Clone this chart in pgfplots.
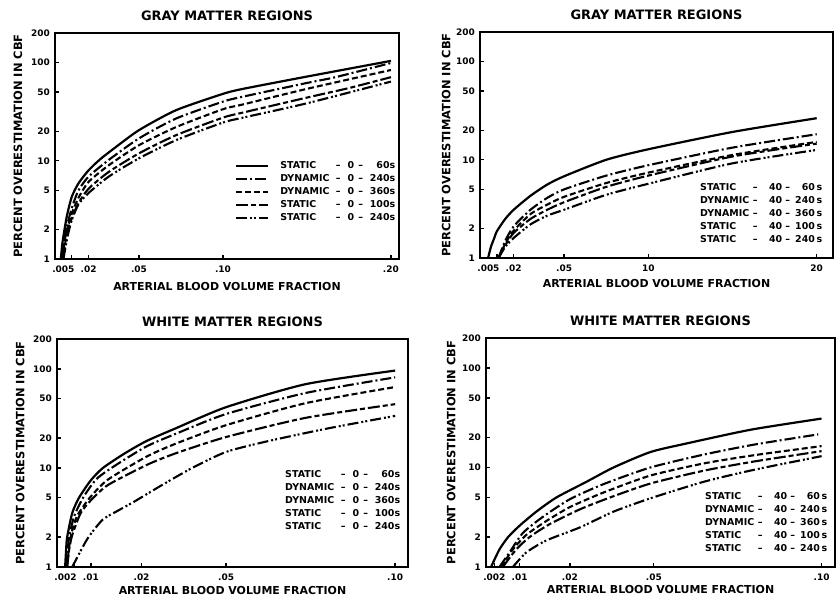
\documentclass[border=0pt]{standalone}
\usepackage{fontspec}
\setmainfont{DejaVu Sans}
\usepackage{pgfplots}
\pgfplotsset{compat=1.18}

\newcommand{\LZ}[3]{\makebox[52bp][l]{#1}\makebox[12bp]{--}\makebox[10bp][r]{#2}\makebox[13bp]{--}\makebox[28bp][r]{#3}}
\newcommand{\LF}[3]{\makebox[50bp][l]{#1}\makebox[10bp]{--}\makebox[22bp][r]{#2}\makebox[11bp]{--}\makebox[29bp][r]{#3}}

\tikzset{
 c1/.style={black, smooth, tension=0.4, solid, line width=2.2bp},
 c2/.style={black, smooth, tension=0.4, line width=2.1bp, dash pattern=on 11bp off 3bp on 2bp off 3bp},
 c3/.style={black, smooth, tension=0.4, line width=2.1bp, dash pattern=on 6bp off 3bp},
 c4/.style={black, smooth, tension=0.4, line width=2.1bp, dash pattern=on 12bp off 3bp on 5bp off 3bp},
 c5/.style={black, smooth, tension=0.4, line width=2.1bp, dash pattern=on 11bp off 3bp on 2bp off 2bp on 2bp off 3bp},
}

\pgfplotsset{
  scale only axis,
  ymin=1, ymax=200,
  xmin=0,
  axis line style={line width=2bp},
  every tick/.style={black, line width=1.4bp},
  major tick length=4bp,
  tick align=inside, tick pos=left,
  tick label style={font=\fontsize{9}{10}\selectfont\bfseries, inner sep=0pt},
  xticklabel style={anchor=north, yshift=-7bp},
  yticklabel style={anchor=east, xshift=-5bp},
  every axis title/.style={at={(axis description cs:0.5,1.075)}, anchor=center, font=\fontsize{13}{15}\selectfont\bfseries},
  xlabel style={font=\fontsize{11}{13}\selectfont\bfseries, anchor=center},
  ylabel style={font=\fontsize{11.5}{13}\selectfont\bfseries, anchor=center},
  legend cell align=left,
  legend style={draw=none, fill=none, inner sep=0pt, anchor=north west,
    font=\fontsize{9.5}{10}\selectfont\bfseries,
    nodes={inner sep=0pt, text height=7bp, text depth=1.5bp}, row sep=4.5bp},
}

\begin{document}
\begin{tikzpicture}
\useasboundingbox (0,0) rectangle (836bp,601bp);

% ---------------- TOP LEFT ----------------
\begin{axis}[at={(55bp,342bp)}, anchor=south west, width=344bp, height=226bp, xmax=0.2048,
  ymode=log, ytick={1,2,5,10,20,50,100,200}, yticklabels={1,2,5,10,20,50,100,200}, yminorticks=false,
  xtick={0.005,0.01,0.02,0.05,0.1,0.2}, xticklabels={.005,,.02,.05,.10,.20},
  title={GRAY MATTER REGIONS},
  xlabel={ARTERIAL BLOOD VOLUME FRACTION},
  ylabel={PERCENT OVERESTIMATION IN CBF},
  xlabel style={at={(axis description cs:0.5,-0.1226)}},
  ylabel style={at={(axis description cs:-0.1076,0.5)}},
  legend style={at={(axis description cs:0.523,0.431)}, column sep=11bp},
  legend image code/.code={\draw[#1] (0bp,0bp) -- (32bp,0bp);}]
\addplot[c1] coordinates {(0.0035,1) (0.0044,1.45) (0.007,2.7) (0.01,4.3) (0.014,5.9) (0.02,8.0) (0.027,10.4) (0.035,13.3) (0.05,20.5) (0.072,32.7) (0.1,48) (0.112,54) (0.15,72) (0.2,104)};
\addlegendentry{\LZ{STATIC}{0}{60s}}
\addplot[c2] coordinates {(0.0042,1) (0.006,1.8) (0.01,3.3) (0.014,5.0) (0.02,6.9) (0.032,10.2) (0.05,16.9) (0.072,26.9) (0.1,40) (0.112,45) (0.15,62) (0.167,71) (0.2,99)};
\addlegendentry{\LZ{DYNAMIC}{0}{240s}}
\addplot[c3] coordinates {(0.0045,1) (0.0065,1.8) (0.01,2.9) (0.014,4.2) (0.02,6.1) (0.032,9.0) (0.05,14.4) (0.072,22) (0.1,33.5) (0.112,37.5) (0.15,54) (0.2,84)};
\addlegendentry{\LZ{DYNAMIC}{0}{360s}}
\addplot[c4] coordinates {(0.0048,1) (0.007,1.8) (0.01,2.6) (0.014,3.7) (0.02,5.2) (0.032,7.7) (0.05,11.9) (0.072,18.2) (0.1,27.5) (0.112,31) (0.15,44) (0.175,55) (0.2,71)};
\addlegendentry{\LZ{STATIC}{0}{100s}}
\addplot[c5] coordinates {(0.005,1) (0.0075,1.7) (0.01,2.5) (0.014,3.6) (0.02,4.7) (0.032,6.9) (0.05,10.6) (0.072,16.2) (0.1,24.5) (0.112,27.5) (0.15,38.5) (0.2,64)};
\addlegendentry{\LZ{STATIC}{0}{240s}}
\end{axis}

% ---------------- TOP RIGHT ----------------
\begin{axis}[at={(480bp,343bp)}, anchor=south west, width=353bp, height=226bp, xmax=0.2097,
  ymode=log, ytick={1,2,5,10,20,50,100,200}, yticklabels={1,2,5,10,20,50,100,200}, yminorticks=false,
  xtick={0.005,0.01,0.02,0.05,0.1,0.2}, xticklabels={.005,,.02,.05,10,20},
  title={GRAY MATTER REGIONS},
  xlabel={ARTERIAL BLOOD VOLUME FRACTION},
  ylabel={PERCENT OVERESTIMATION IN CBF},
  xlabel style={at={(axis description cs:0.5,-0.115)}},
  ylabel style={at={(axis description cs:-0.096,0.5)}},
  legend style={at={(axis description cs:0.6232,0.3305)}, column sep=0bp},
  legend image code/.code={}]
\addplot[c1] coordinates {(0.0048,1) (0.0065,1.3) (0.0085,1.6) (0.01,1.87) (0.015,2.5) (0.02,3.1) (0.03,4.3) (0.04,5.6) (0.05,6.8) (0.075,10) (0.1,12.8) (0.15,19.2) (0.2,26.5)};
\addlegendentry{\LF{STATIC}{40}{60\,s}}
\addplot[c2] coordinates {(0.011,1) (0.015,1.5) (0.02,2.1) (0.03,3.1) (0.04,4.1) (0.05,5.0) (0.075,6.9) (0.1,8.8) (0.15,13.3) (0.2,18.2)};
\addlegendentry{\LF{DYNAMIC}{40}{240\,s}}
\addplot[c3] coordinates {(0.011,1) (0.015,1.4) (0.02,1.9) (0.03,2.8) (0.04,3.5) (0.05,4.2) (0.075,5.8) (0.1,7.4) (0.15,11.2) (0.2,15.2)};
\addlegendentry{\LF{DYNAMIC}{40}{360\,s}}
\addplot[c4] coordinates {(0.011,1) (0.015,1.35) (0.02,1.8) (0.03,2.5) (0.04,3.1) (0.05,3.7) (0.075,5.3) (0.1,6.9) (0.15,10.8) (0.2,14.6)};
\addlegendentry{\LF{STATIC}{40}{100\,s}}
\addplot[c5] coordinates {(0.011,1) (0.015,1.3) (0.02,1.6) (0.03,2.2) (0.04,2.7) (0.05,3.1) (0.075,4.4) (0.1,5.7) (0.15,9.2) (0.2,12.6)};
\addlegendentry{\LF{STATIC}{40}{240\,s}}
\end{axis}

% ---------------- BOTTOM LEFT ----------------
\begin{axis}[at={(57bp,34bp)}, anchor=south west, width=351bp, height=228bp, xmax=0.1038,
  ymode=log, ytick={1,2,5,10,20,50,100,200}, yticklabels={1,2,5,10,20,50,100,200}, yminorticks=false,
  xtick={0.0025,0.005,0.01,0.025,0.05,0.1}, xticklabels={.002,,.01,.02,.05,.10},
  title={WHITE MATTER REGIONS},
  xlabel={ARTERIAL BLOOD VOLUME FRACTION},
  ylabel={PERCENT OVERESTIMATION IN CBF},
  xlabel style={at={(axis description cs:0.5,-0.105)}},
  ylabel style={at={(axis description cs:-0.105,0.5)}},
  legend style={at={(axis description cs:0.6496,0.4241)}, column sep=0bp},
  legend image code/.code={}]
\addplot[c1] coordinates {(0.0024,1) (0.0027,1.5) (0.003,2) (0.0045,3.5) (0.0065,5) (0.01,7.5) (0.0136,10) (0.02,14) (0.0265,18.7) (0.035,25) (0.05,41) (0.0735,70) (0.1,96)};
\addlegendentry{\LZ{STATIC}{0}{60s}}
\addplot[c2] coordinates {(0.0028,1) (0.0032,1.5) (0.0036,2) (0.005,3.2) (0.0077,5) (0.0118,7.8) (0.018,11) (0.0265,16.5) (0.035,22) (0.05,35) (0.0735,57) (0.1,82)};
\addlegendentry{\LZ{DYNAMIC}{0}{240s}}
\addplot[c3] coordinates {(0.003,1) (0.0035,1.5) (0.0043,2.2) (0.006,3.3) (0.0097,5) (0.015,7.6) (0.0265,13) (0.035,17.5) (0.05,27) (0.0735,45) (0.1,65.5)};
\addlegendentry{\LZ{DYNAMIC}{0}{360s}}
\addplot[c4] coordinates {(0.003,1) (0.0036,1.5) (0.0045,2.1) (0.007,3.5) (0.01,4.7) (0.015,6.7) (0.0265,10.7) (0.035,14) (0.05,20.5) (0.0735,32) (0.1,44)};
\addlegendentry{\LZ{STATIC}{0}{100s}}
\addplot[c5] coordinates {(0.0045,1) (0.0065,1.35) (0.0093,2) (0.0135,3) (0.018,3.7) (0.023,4.6) (0.031,6.7) (0.04,10) (0.05,14.5) (0.062,18.5) (0.08,25) (0.1,33.5)};
\addlegendentry{\LZ{STATIC}{0}{240s}}
\end{axis}

% ---------------- BOTTOM RIGHT ----------------
\begin{axis}[at={(486bp,34bp)}, anchor=south west, width=349bp, height=229bp, xmax=0.104,
  ymode=log, ytick={1,2,5,10,20,50,100,200}, yticklabels={1,2,5,10,20,50,100,200}, yminorticks=false,
  xtick={0.0025,0.005,0.01,0.025,0.05,0.1}, xticklabels={.002,,.01,.02,.05,.10},
  title={WHITE MATTER REGIONS},
  xlabel={ARTERIAL BLOOD VOLUME FRACTION},
  ylabel={PERCENT OVERESTIMATION IN CBF},
  xlabel style={at={(axis description cs:0.5,-0.10)}},
  ylabel style={at={(axis description cs:-0.100,0.5)}},
  legend style={at={(axis description cs:0.6275,0.3262)}, column sep=0bp},
  legend image code/.code={}]
\addplot[c1] coordinates {(0.0015,1) (0.004,1.5) (0.0066,2) (0.01,2.6) (0.015,3.6) (0.021,5) (0.03,7.2) (0.038,10) (0.049,14.3) (0.06,17.5) (0.079,24) (0.1,31)};
\addlegendentry{\LF{STATIC}{40}{60\,s}}
\addplot[c2] coordinates {(0.004,1) (0.007,1.4) (0.011,2.2) (0.017,3.2) (0.025,4.8) (0.035,6.8) (0.049,10) (0.065,13.5) (0.08,17) (0.099,21.5)};
\addlegendentry{\LF{DYNAMIC}{40}{240\,s}}
\addplot[c3] coordinates {(0.0045,1) (0.008,1.5) (0.012,2.1) (0.018,2.9) (0.025,4) (0.035,5.6) (0.049,8.3) (0.065,11) (0.08,13.3) (0.1,16.4)};
\addlegendentry{\LF{DYNAMIC}{40}{360\,s}}
\addplot[c4] coordinates {(0.005,1) (0.009,1.5) (0.013,2) (0.019,2.7) (0.028,3.8) (0.037,5) (0.049,6.9) (0.065,9.3) (0.08,11.5) (0.1,14.6)};
\addlegendentry{\LF{STATIC}{40}{100\,s}}
\addplot[c5] coordinates {(0.008,1) (0.012,1.4) (0.018,1.85) (0.028,2.5) (0.038,3.6) (0.049,4.9) (0.065,7.2) (0.08,9.5) (0.1,13)};
\addlegendentry{\LF{STATIC}{40}{240\,s}}
\end{axis}
\end{tikzpicture}
\end{document}
